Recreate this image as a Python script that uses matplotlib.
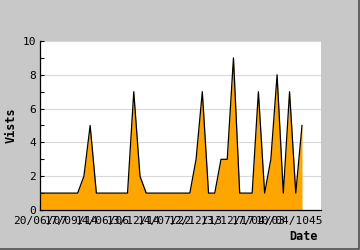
import matplotlib
matplotlib.use("Agg")
import matplotlib.pyplot as plt
from matplotlib.lines import Line2D

# Data
visits = [1, 1, 1, 1, 1, 1, 1, 2, 5, 1,
          1, 1, 1, 1, 1, 7, 2, 1, 1, 1,
          1, 1, 1, 1, 1, 3, 7, 1, 1, 3,
          3, 9, 1, 1, 1, 7, 1, 3, 8, 1,
          7, 1, 5]
tick_labels = ["20/06/07", "17/09/14", "14/06/06", "13/12/14", "14/07/22",
               "12/12/13", "13/12/17", "17/04/03", "10/04/1045"]
y_ticks = [0, 2, 4, 6, 8, 10]

x = list(range(len(visits)))
tick_pos = list(range(0, 5 * len(tick_labels), 5))

fig = plt.figure(figsize=(3.6, 2.5), dpi=100, facecolor="#c8c8c8")
# shadow-like frame on right and bottom
fig.lines.append(Line2D([0, 0.996, 0.996], [0.004, 0.004, 1],
                        transform=fig.transFigure, color="#505050",
                        linewidth=1.2))
ax = fig.add_axes([40.3 / 360, 1 - 210 / 250, 280.4 / 360, 169 / 250])
ax.set_facecolor("white")

ax.fill_between(x, visits, 0, color="#ffa500", linewidth=0, zorder=2)
ax.plot(x, visits, color="black", linewidth=0.9, zorder=3)

ax.set_xlim(0, 45)
ax.set_ylim(0, 10)
ax.set_yticks(y_ticks)
ax.set_yticks(range(0, 11), minor=True)
ax.set_xticks(tick_pos)
ax.set_xticklabels(tick_labels)
ax.grid(axis="y", color="#d9d9d9", linewidth=0.8, zorder=1)
ax.set_axisbelow(True)

for s in ["top", "right"]:
    ax.spines[s].set_visible(False)
for s in ["left", "bottom"]:
    ax.spines[s].set_color("black")
    ax.spines[s].set_linewidth(0.9)
    ax.spines[s].set_zorder(4)

ax.tick_params(axis="both", which="both", direction="in", length=3,
               width=0.8, labelsize=8, colors="black", pad=3)
ax.tick_params(axis="x", pad=4)
for lab in ax.get_xticklabels() + ax.get_yticklabels():
    lab.set_family("DejaVu Sans Mono")

fig.text(0.03, 0.5, "Vists", rotation=90,
         fontsize=8.5, fontweight="bold", family="DejaVu Sans Mono",
         va="center", ha="center")
fig.text(303 / 360, 1 - 236 / 250, "Date", fontsize=8.5, fontweight="bold",
         family="DejaVu Sans Mono", va="center", ha="center")

fig.savefig("out.png", dpi=100, facecolor=fig.get_facecolor())
